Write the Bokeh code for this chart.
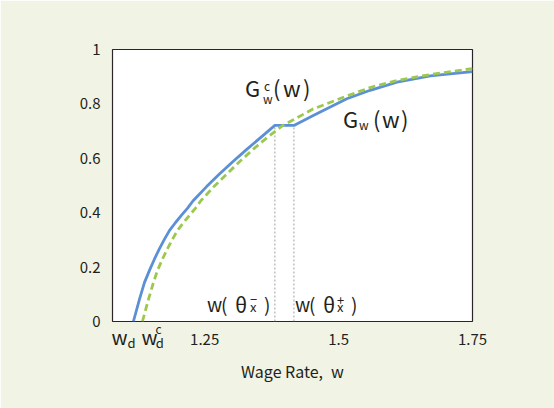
from bokeh.plotting import figure
from bokeh.models import Label, FixedTicker, Range1d
from bokeh.embed import file_html
from bokeh.resources import INLINE

# ---- data ----
blue_x = [1.1170, 1.1227, 1.1283, 1.1376, 1.1470, 1.1564, 1.1657, 1.1751, 1.1845,
          1.1957, 1.2069, 1.2182, 1.2281, 1.2532, 1.2781, 1.3030, 1.3281, 1.3549,
          1.3811, 1.4167, 1.4528, 1.5154, 1.5590, 1.6090, 1.6713, 1.7500]
blue_y = [0.000, 0.041, 0.081, 0.143, 0.188, 0.230, 0.268, 0.303, 0.335,
          0.364, 0.391, 0.417, 0.443, 0.495, 0.543, 0.588, 0.632, 0.677,
          0.721, 0.721, 0.757, 0.819, 0.850, 0.880, 0.903, 0.919]
green_x = [1.1339, 1.1395, 1.1451, 1.1544, 1.1620, 1.1714, 1.1807, 1.1901, 1.1994,
           1.2107, 1.2219, 1.2331, 1.2425, 1.2669, 1.2918, 1.3155, 1.3399, 1.3670,
           1.3961, 1.4148, 1.4522, 1.5154, 1.5590, 1.6090, 1.6713, 1.7500]
green_y = [0.000, 0.041, 0.081, 0.143, 0.188, 0.230, 0.268, 0.303, 0.335,
           0.364, 0.391, 0.417, 0.443, 0.495, 0.543, 0.588, 0.632, 0.677,
           0.721, 0.741, 0.781, 0.829, 0.860, 0.886, 0.908, 0.930]
w_d = 1.117
w_dc = 1.134
theta_minus = 1.3811
theta_plus = 1.4167
plateau = 0.721

x_tick_vals = [1.25, 1.5, 1.75]
x_tick_labels = ["1.25", "1.5", "1.75"]
y_tick_vals = [0, 0.2, 0.4, 0.6, 0.8, 1.0]
y_tick_labels = ["0", "0.2", "0.4", "0.6", "0.8", "1"]

# ---- styling ----
BG = "#f1f4e5"
TXT = "#231f20"
FONT = "Noto Sans CJK KR"
BLUE = "#5b8fd6"
GREEN = "#9dc850"

p = figure(width=554, height=408, output_backend="svg", toolbar_location=None,
           x_range=Range1d(1.078, 1.75), y_range=Range1d(0, 1),
           min_border_left=112, min_border_right=82, min_border_top=49, min_border_bottom=87)
p.background_fill_color = "white"
p.border_fill_color = BG
p.outline_line_color = "#2a2627"
p.outline_line_width = 1.2
p.xgrid.visible = False
p.ygrid.visible = False

for ax in (p.xaxis[0], p.yaxis[0]):
    ax.axis_line_color = None
    ax.major_tick_line_color = None
    ax.minor_tick_line_color = None
    ax.major_tick_out = 0
    ax.major_tick_in = 0
    ax.major_label_text_font = FONT
    ax.major_label_text_font_size = "15px"
    ax.major_label_text_color = TXT

p.xaxis.ticker = FixedTicker(ticks=x_tick_vals)
p.xaxis.major_label_overrides = dict(zip(x_tick_vals, x_tick_labels))
p.yaxis.ticker = FixedTicker(ticks=y_tick_vals)
p.yaxis.major_label_overrides = dict(zip(y_tick_vals, y_tick_labels))
p.xaxis.major_label_standoff = 12
p.yaxis.major_label_standoff = 12

p.xaxis.axis_label = "Wage Rate,\u2002w"
p.xaxis.axis_label_text_font = FONT
p.xaxis.axis_label_text_font_size = "16px"
p.xaxis.axis_label_text_font_style = "normal"
p.xaxis.axis_label_text_color = TXT
p.xaxis.axis_label_standoff = 11

# dotted guides
p.segment(x0=[theta_minus, theta_plus], y0=[0, 0], x1=[theta_minus, theta_plus],
          y1=[plateau, plateau], line_color="#a0a0a0", line_width=1, line_dash="2 2")

# curves
p.line(blue_x, blue_y, line_color=BLUE, line_width=2.8)
p.line(green_x, green_y, line_color=GREEN, line_width=2.8, line_dash="7 4")


def mk(x, y, text, dx, dy, size):
    # dy is the intended baseline height in px above the anchor
    return Label(x=x, y=y, x_offset=dx, y_offset=dy + round(0.45 * size), text=text,
                 text_font=FONT, text_font_size=f"{size}px", text_color=TXT,
                 text_align="left", text_baseline="alphabetic")


def put(x, y, pieces):
    for text, dx, dy, size in pieces:
        p.add_layout(mk(x, y, text, dx, dy, size))


# G^c_w(w)
put(theta_minus, plateau, [("G", -30, 28, 22), ("c", -11, 35, 12), ("w", -12, 22, 12),
                           ("(", -2, 28, 22), ("w", 8, 28, 22), (")", 28, 28, 22)])
# G_w(w)
put(theta_plus, plateau, [("G", 49, -3, 22), ("w", 65, -4, 12),
                          ("(", 79, -3, 22), ("w", 88, -3, 22), (")", 107, -3, 22)])
# w(theta_x^-)
put(theta_minus, 0, [("w", -68, 9, 19), ("(", -54, 9, 19), ("θ", -40, 9, 21),
                     ("−", -25, 17, 13), ("x", -25, 9, 13), (")", -11, 9, 19)])
# w(theta_x^+)
put(theta_plus, 0, [("w", 1, 9, 19), ("(", 15, 9, 19), ("θ", 29, 9, 21),
                    ("+", 43, 16, 13), ("x", 43, 9, 13), (")", 57, 9, 19)])

# w_d and w_d^c labels under the axis (side panels so they are not clipped)
p.add_layout(mk(w_d, 0, "w\u2002\u2009w", -22, -24, 20), "left")
p.add_layout(mk(w_d, 0, "d\u2003\u2002\u200ad", -6, -27, 13), "right")
p.add_layout(mk(w_dc, 0, "c", 13, -12, 12), "right")

open("out.html", "w").write(file_html(p, INLINE))
